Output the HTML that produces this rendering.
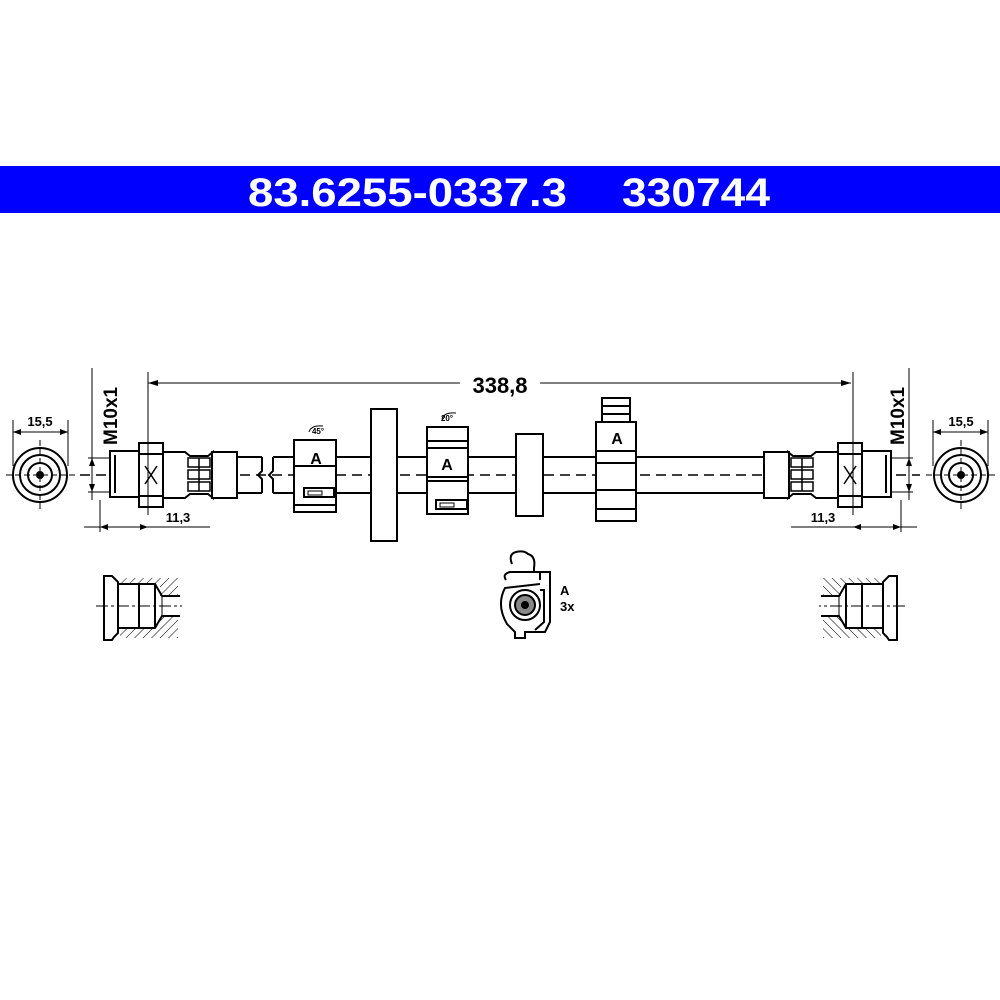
<!DOCTYPE html>
<html><head><meta charset="utf-8"><style>
html,body{margin:0;padding:0;background:#fff;width:1000px;height:1000px;overflow:hidden}
svg{display:block}
text{font-family:"Liberation Sans",sans-serif;font-weight:bold;fill:#000}
</style></head><body>
<svg width="1000" height="1000" viewBox="0 0 1000 1000" xmlns="http://www.w3.org/2000/svg">
<defs>
<pattern id="h" width="6" height="6" patternUnits="userSpaceOnUse" patternTransform="rotate(45)"><line x1="0" y1="0" x2="0" y2="6" stroke="#000" stroke-width="1"/></pattern>
<g id="fit" fill="#fff" stroke="#000" stroke-width="2">
  <circle cx="40" cy="475" r="27"/>
  <circle cx="40" cy="475" r="20"/>
  <circle cx="40" cy="475" r="12"/>
  <circle cx="40" cy="475" r="3" fill="#000"/>
  <line x1="6" y1="475" x2="76" y2="475" stroke-width="1" stroke-dasharray="6,3"/>
  <line x1="40" y1="440" x2="40" y2="510" stroke-width="1" stroke-dasharray="6,3"/>
  <line x1="13" y1="420" x2="13" y2="466" stroke-width="1"/>
  <line x1="68" y1="420" x2="68" y2="466" stroke-width="1"/>
  <line x1="13" y1="432" x2="68" y2="432" stroke-width="1"/>
  <path d="M13,432 l8,-3 v6z M68,432 l-8,-3 v6z" fill="#000" stroke="none"/>
  <line x1="92" y1="368" x2="92" y2="500" stroke-width="1"/>
  <line x1="88" y1="458" x2="112" y2="458" stroke-width="1"/>
  <line x1="88" y1="492" x2="112" y2="492" stroke-width="1"/>
  <path d="M92,458 l-3,8 h6z M92,492 l-3,-8 h6z" fill="#000" stroke="none"/>
  <rect x="110" y="451" width="30" height="46"/>
  <line x1="115" y1="455" x2="115" y2="493" stroke-width="2"/>
  <rect x="139" y="443" width="24" height="64"/>
  <line x1="139" y1="454" x2="163" y2="454"/>
  <line x1="139" y1="496" x2="163" y2="496"/>
  <path d="M145,466 L157,484 M157,466 L145,484" stroke-width="1.5"/>
  <path d="M163,452 L185,452 L190,456 L208,456 L213,452 L213,498 L208,494 L190,494 L185,498 L163,498Z"/>
  <g stroke-width="1.5">
  <rect x="188" y="458" width="22" height="9"/><rect x="188" y="470" width="22" height="9"/><rect x="188" y="482" width="22" height="9"/>
  <line x1="199" y1="458" x2="199" y2="491"/>
  </g>
  <rect x="212" y="452" width="25" height="46"/>
  <line x1="148" y1="372" x2="148" y2="515" stroke-width="1"/>
  <line x1="100" y1="500" x2="100" y2="532" stroke-width="1"/>
  <line x1="84" y1="527" x2="210" y2="527" stroke-width="1"/>
  <path d="M100,527 l8,-3 v6z M148,527 l-8,-3 v6z" fill="#000" stroke="none"/>
  <rect x="120" y="578" width="58" height="60" fill="url(#h)" stroke="none"/>
  <path d="M104,576 L104,640 L112,640 L114,637 L118,633 L118,582 L114,578 L112,576Z" stroke-width="2" fill="#fff"/>
  <path d="M118,584 L160,584 L160,628 L118,628Z M160,596 L180,596 L180,616 L160,616Z" fill="#fff" stroke="none"/>
  <path d="M118,584 L155,584 L162,596 L180,596 M118,628 L155,628 L162,616 L180,616 M118,584 V628 M155,584 V628 M139,584 V628" fill="none" stroke-width="2"/>
  <path d="M162,596 V616" fill="none" stroke-width="1"/>
  <line x1="96" y1="606" x2="182" y2="606" stroke-width="1" stroke-dasharray="12,3,3,3"/>
</g>
</defs>
<rect x="0" y="166" width="1000" height="47" fill="#0000ff"/>
<text x="248" y="206" font-size="40" textLength="319" lengthAdjust="spacingAndGlyphs" style="fill:#fff">83.6255-0337.3</text>
<text x="622" y="206" font-size="40" textLength="148" lengthAdjust="spacingAndGlyphs" style="fill:#fff">330744</text>

<g stroke="#000" stroke-width="2" fill="#fff">
<line x1="237" y1="457" x2="262" y2="457"/>
<line x1="237" y1="493" x2="262" y2="493"/>
<path d="M262,457 v14 l-4,4 l4,4 v14 M273,457 v14 l-4,4 l4,4 v14" fill="none"/>
<line x1="273" y1="457" x2="765" y2="457"/>
<line x1="273" y1="493" x2="765" y2="493"/>
<line x1="80" y1="475" x2="920" y2="475" stroke-width="1.5" stroke-dasharray="10,6"/>
<line x1="148" y1="383" x2="851" y2="383" stroke-width="1"/>
</g>
<path d="M148,383 l10,-3 v6z M851,383 l-10,-3 v6z" fill="#000"/>
<rect x="460" y="370" width="80" height="26" fill="#fff"/>
<text x="500" y="393" font-size="22" text-anchor="middle">338,8</text>

<use href="#fit"/>
<use href="#fit" transform="translate(1001,0) scale(-1,1)"/>

<text x="40" y="426" font-size="13" text-anchor="middle">15,5</text>
<text x="961" y="426" font-size="13" text-anchor="middle">15,5</text>
<text x="178" y="522" font-size="13" text-anchor="middle">11,3</text>
<text x="823" y="522" font-size="13" text-anchor="middle">11,3</text>
<text transform="translate(117,445) rotate(-90)" font-size="19">M10x1</text>
<text transform="translate(904,445) rotate(-90)" font-size="19">M10x1</text>

<g stroke="#000" stroke-width="2" fill="#fff">
 <rect x="294" y="440" width="42" height="72"/>
 <line x1="294" y1="466" x2="336" y2="466"/>
 <line x1="294" y1="505" x2="336" y2="505"/>
 <rect x="304" y="488" width="30" height="9"/><rect x="308" y="491" width="14" height="4" stroke-width="1"/>
 <rect x="371" y="409" width="26" height="132"/>
 <rect x="427" y="427" width="41" height="87"/>
 <line x1="427" y1="441" x2="468" y2="441"/>
 <line x1="427" y1="448" x2="468" y2="448"/>
 <line x1="427" y1="477" x2="468" y2="477"/>
 <line x1="427" y1="481" x2="468" y2="481"/>
 <rect x="436" y="500" width="31" height="9"/><rect x="440" y="503" width="14" height="4" stroke-width="1"/>
 <rect x="516" y="434" width="27" height="82"/>
 <rect x="602" y="398" width="28" height="25"/>
 <line x1="602" y1="406" x2="630" y2="406"/><line x1="602" y1="414" x2="630" y2="414"/>
 <rect x="596" y="422" width="40" height="99"/>
 <line x1="596" y1="451" x2="636" y2="451"/>
 <line x1="596" y1="463" x2="636" y2="463"/>
 <line x1="596" y1="490" x2="636" y2="490"/>
 <line x1="596" y1="509" x2="636" y2="509"/>
</g>
<text x="316" y="464" font-size="16" text-anchor="middle">A</text>
<text x="447" y="470" font-size="16" text-anchor="middle">A</text>
<text x="617" y="444" font-size="16" text-anchor="middle">A</text>
<text x="318" y="434" font-size="8" text-anchor="middle">45°</text>
<text x="447" y="421" font-size="8" text-anchor="middle">20°</text>
<path d="M309,432 q2,-7 14,-6 M442,419 q2,-7 14,-6" fill="none" stroke="#000" stroke-width="1"/>

<g stroke="#000" stroke-width="2" fill="none">
 <path d="M512,564 q-4,-10 4,-12 q8,-2 12,2 q8,2 6,14 l0,4"/>
 <path d="M506,580 q-4,-6 4,-8 l30,0 l0,8"/>
 <path d="M540,572 L550,572 L550,622 L545,632 L525,632 L525,638 L515,638 L515,632 L507,624 Q496,605 505,588 L540,584"/>
 <circle cx="525" cy="605" r="15"/>
 <circle cx="525" cy="605" r="10" fill="#888"/>
 <circle cx="525" cy="605" r="3" fill="#000"/>
 <path d="M540,590 L544,590 L544,622 L535,630"/>
</g>
<text x="560" y="595" font-size="13">A</text>
<text x="560" y="611" font-size="13">3x</text>
</svg>
</body></html>
